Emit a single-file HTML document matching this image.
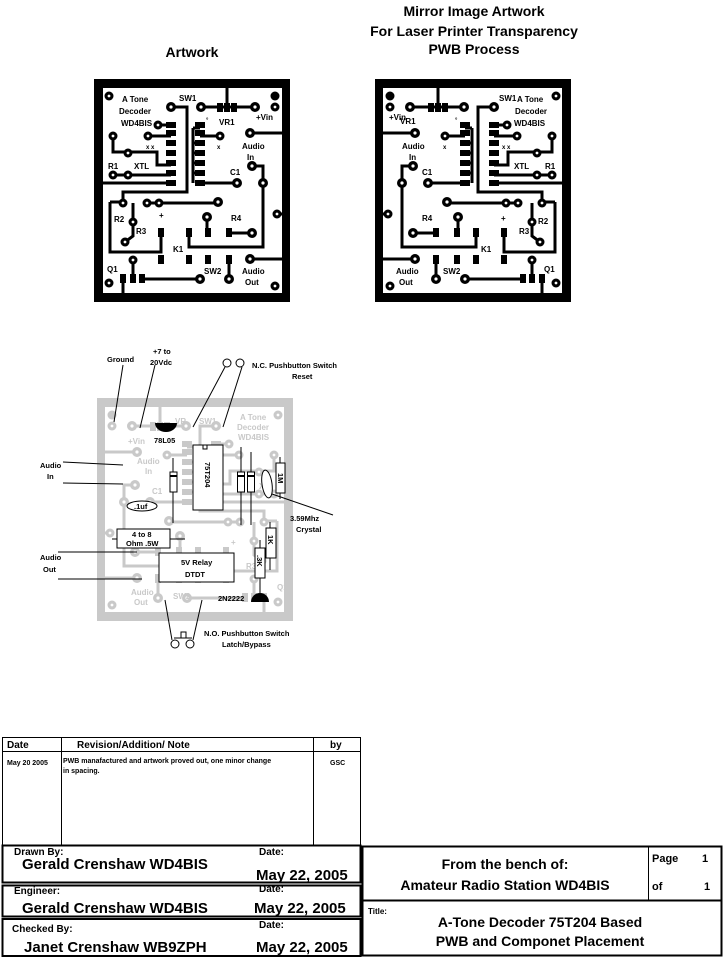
<!DOCTYPE html>
<html><head><meta charset="utf-8"><style>
html,body{margin:0;padding:0;background:#fff}
svg{display:block}
text{font-family:"Liberation Sans",sans-serif;font-weight:bold}
</style></head><body>
<svg width="723" height="958" viewBox="0 0 723 958" xmlns="http://www.w3.org/2000/svg">
<defs>
<g id="art">
  <path d="M94,79H290V302H94Z M103,88V293H282V88Z" fill="currentColor" fill-rule="evenodd"/>
  <g stroke="currentColor" stroke-width="3" fill="none">
    <path d="M227,80V107"/>
    <path d="M201,107H255"/>
    <path d="M247,133H282"/>
    <path d="M250,166H263V247H189V232"/>
    <path d="M277,214H282"/>
    <path d="M250,259H282"/>
    <path d="M171,107H187V192H123V203"/>
    <path d="M110,202H123 M110,202V252H161V233"/>
    <path d="M113,136V152H157V165H171"/>
    <path d="M113,175H171"/>
    <path d="M200,183H237"/>
    <path d="M148,136H171"/>
    <path d="M158,125H171"/>
    <path d="M200,136H220"/>
    <path d="M193,128V183"/>
    <path d="M200,128H193 M200,143H193 M200,153H193 M200,163H193 M200,173H193"/>
    <path d="M133,203V236L125,242"/>
    <path d="M147,203H218"/>
    <path d="M207,217V232"/>
    <path d="M229,233H252"/>
    <path d="M142,279H200"/>
    <path d="M229,260V279"/>
    <path d="M133,260V279"/>
    <path d="M123,279V293"/>
    <path d="M103,183H171"/>
  </g>
  <g fill="currentColor">
    <circle cx="109" cy="96" r="4.5"/><circle cx="275" cy="96" r="4.5"/><circle cx="275" cy="107" r="4.5"/>
    <circle cx="171" cy="107" r="5"/><circle cx="201" cy="107" r="5"/><circle cx="255" cy="107" r="5"/>
    <circle cx="250" cy="133" r="5"/><circle cx="113" cy="136" r="4.5"/>
    <circle cx="158" cy="125" r="4.5"/><circle cx="148" cy="136" r="4.5"/><circle cx="220" cy="136" r="4.5"/>
    <circle cx="113" cy="175" r="4.5"/><circle cx="128" cy="175" r="4.5"/><circle cx="128" cy="153" r="4.5"/>
    <circle cx="237" cy="183" r="5"/><circle cx="252" cy="166" r="5"/><circle cx="263" cy="183" r="5"/>
    <circle cx="277" cy="214" r="4.5"/>
    <circle cx="123" cy="203" r="4.5"/><circle cx="147" cy="203" r="4.5"/><circle cx="159" cy="203" r="4.5"/><circle cx="218" cy="202" r="5"/>
    <circle cx="207" cy="217" r="5"/><circle cx="133" cy="222" r="4.5"/><circle cx="125" cy="242" r="4.5"/>
    <circle cx="252" cy="233" r="5"/>
    <circle cx="133" cy="260" r="4.5"/><circle cx="200" cy="279" r="5"/><circle cx="229" cy="279" r="5"/>
    <circle cx="250" cy="259" r="5"/><circle cx="109" cy="283" r="4.5"/><circle cx="275" cy="286" r="4.5"/>
    <rect x="217" y="103" width="6" height="9"/><rect x="224" y="103" width="6" height="9"/><rect x="231" y="103" width="6" height="9"/>
    <rect x="166" y="122" width="10" height="6"/><rect x="166" y="130" width="10" height="6"/><rect x="166" y="140" width="10" height="6"/><rect x="166" y="150" width="10" height="6"/><rect x="166" y="160" width="10" height="6"/><rect x="166" y="170" width="10" height="6"/><rect x="166" y="180" width="10" height="6"/>
    <rect x="195" y="122" width="10" height="6"/><rect x="195" y="130" width="10" height="6"/><rect x="195" y="140" width="10" height="6"/><rect x="195" y="150" width="10" height="6"/><rect x="195" y="160" width="10" height="6"/><rect x="195" y="170" width="10" height="6"/><rect x="195" y="180" width="10" height="6"/>
    <rect x="158" y="228" width="6" height="9"/><rect x="186" y="228" width="6" height="9"/><rect x="205" y="228" width="6" height="9"/><rect x="226" y="228" width="6" height="9"/>
    <rect x="158" y="255" width="6" height="9"/><rect x="186" y="255" width="6" height="9"/><rect x="205" y="255" width="6" height="9"/><rect x="226" y="255" width="6" height="9"/>
    <rect x="120" y="274" width="6" height="9"/><rect x="130" y="274" width="6" height="9"/><rect x="139" y="274" width="6" height="9"/>
  </g>
  <g fill="#fff">
    <circle cx="109" cy="96" r="1.4"/><circle cx="275" cy="107" r="1.4"/>
    <circle cx="171" cy="107" r="1.6"/><circle cx="201" cy="107" r="1.6"/><circle cx="255" cy="107" r="1.6"/>
    <circle cx="250" cy="133" r="1.6"/><circle cx="113" cy="136" r="1.4"/>
    <circle cx="158" cy="125" r="1.4"/><circle cx="148" cy="136" r="1.4"/><circle cx="220" cy="136" r="1.4"/>
    <circle cx="113" cy="175" r="1.4"/><circle cx="128" cy="175" r="1.4"/><circle cx="128" cy="153" r="1.4"/>
    <circle cx="237" cy="183" r="1.6"/><circle cx="252" cy="166" r="1.6"/><circle cx="263" cy="183" r="1.6"/>
    <circle cx="277" cy="214" r="1.4"/>
    <circle cx="123" cy="203" r="1.4"/><circle cx="147" cy="203" r="1.4"/><circle cx="159" cy="203" r="1.4"/><circle cx="218" cy="202" r="1.6"/>
    <circle cx="207" cy="217" r="1.6"/><circle cx="133" cy="222" r="1.4"/><circle cx="125" cy="242" r="1.4"/>
    <circle cx="252" cy="233" r="1.6"/>
    <circle cx="133" cy="260" r="1.4"/><circle cx="200" cy="279" r="1.6"/><circle cx="229" cy="279" r="1.6"/>
    <circle cx="250" cy="259" r="1.6"/><circle cx="109" cy="283" r="1.4"/><circle cx="275" cy="286" r="1.4"/>
  </g>
</g>
</defs>

<g font-size="14" text-anchor="middle">
<text x="192" y="57">Artwork</text>
<text x="474" y="16">Mirror Image Artwork</text>
<text x="474" y="36">For Laser Printer Transparency</text>
<text x="474" y="54">PWB Process</text>
</g>

<use href="#art" color="#000"/>
<g font-size="8">
<text x="122" y="102">A Tone</text><text x="119" y="114">Decoder</text><text x="121" y="126">WD4BIS</text>
<text x="179" y="101">SW1</text><text x="219" y="125">VR1</text><text x="256" y="120">+Vin</text>
<text x="242" y="149">Audio</text><text x="247" y="160">In</text>
<text x="108" y="169">R1</text><text x="134" y="169">XTL</text><text x="230" y="175">C1</text>
<text x="114" y="222">R2</text><text x="136" y="234">R3</text><text x="159" y="218">+</text><text x="231" y="221">R4</text>
<text x="173" y="252">K1</text><text x="107" y="272">Q1</text><text x="204" y="274">SW2</text>
<text x="242" y="274">Audio</text><text x="245" y="285">Out</text>
<text x="146" y="149" font-size="6">x x</text><text x="217" y="149" font-size="6">x</text><text x="206" y="122" font-size="6">°</text>
</g>

<g transform="translate(665,0) scale(-1,1)"><use href="#art" color="#000"/></g>
<g font-size="8">
<text x="499" y="101">SW1</text><text x="517" y="102">A Tone</text><text x="515" y="114">Decoder</text><text x="514" y="126">WD4BIS</text>
<text x="389" y="120">+Vin</text><text x="400" y="124">VR1</text>
<text x="402" y="149">Audio</text><text x="409" y="160">In</text>
<text x="514" y="169">XTL</text><text x="545" y="169">R1</text><text x="422" y="175">C1</text>
<text x="422" y="221">R4</text><text x="501" y="221">+</text><text x="538" y="224">R2</text><text x="519" y="234">R3</text>
<text x="481" y="252">K1</text><text x="544" y="272">Q1</text><text x="443" y="274">SW2</text>
<text x="396" y="274">Audio</text><text x="399" y="285">Out</text>
<text x="502" y="149" font-size="6">x x</text><text x="443" y="149" font-size="6">x</text><text x="455" y="122" font-size="6">°</text>
</g>

<g transform="translate(387,319) scale(-1,1)"><use href="#art" color="#c9c9c9"/></g>
<g font-size="8" fill="#c9c9c9" font-weight="normal">
<text x="175" y="424">VR</text><text x="199" y="424">SW1</text>
<text x="240" y="420">A Tone</text><text x="237" y="430">Decoder</text><text x="238" y="440">WD4BIS</text>
<text x="128" y="444">+Vin</text><text x="137" y="464">Audio</text><text x="145" y="474">In</text>
<text x="152" y="494">C1</text><text x="259" y="489">XT</text><text x="231" y="545">+</text><text x="246" y="569">R3</text>
<text x="277" y="590">Q1</text><text x="131" y="595">Audio</text><text x="134" y="605">Out</text><text x="173" y="599">SW2</text>
</g>

<g stroke="#000" fill="none" stroke-width="1">
  <line x1="123" y1="365" x2="114" y2="422"/>
  <line x1="155" y1="365" x2="140" y2="428"/>
  <line x1="225" y1="367" x2="193" y2="427"/>
  <line x1="242" y1="367" x2="223" y2="427"/>
  <circle cx="227" cy="363" r="4" fill="#fff"/><circle cx="240" cy="363" r="4" fill="#fff"/>
  <line x1="63" y1="462" x2="123" y2="465"/>
  <line x1="63" y1="483" x2="123" y2="484"/>
  <line x1="58" y1="552" x2="137" y2="552"/>
  <line x1="58" y1="579" x2="142" y2="579"/>
  <line x1="165" y1="600" x2="172" y2="640"/>
  <line x1="202" y1="600" x2="193" y2="640"/>
  <circle cx="175" cy="644" r="4" fill="#fff"/><circle cx="190" cy="644" r="4" fill="#fff"/>
  <path d="M174,638H192 M181,638V632H186V638"/>
  <line x1="272" y1="494" x2="333" y2="515"/>
  <rect x="193" y="445" width="30" height="65" fill="#fff"/>
  <rect x="203" y="445" width="4" height="4" fill="#fff"/>
  <line x1="173" y1="458" x2="173" y2="523"/>
  <rect x="170" y="472" width="7" height="20" fill="#fff"/><line x1="170" y1="476" x2="177" y2="476" stroke-width="2"/>
  <line x1="241" y1="447" x2="241" y2="525"/><line x1="251" y1="452" x2="251" y2="525"/>
  <rect x="237.5" y="472" width="7" height="20" fill="#fff"/><line x1="237.5" y1="476" x2="244.5" y2="476" stroke-width="2"/>
  <rect x="247.5" y="472" width="7" height="20" fill="#fff"/><line x1="247.5" y1="476" x2="254.5" y2="476" stroke-width="2"/>
  <ellipse cx="267" cy="484" rx="5" ry="14" fill="#fff" transform="rotate(-8 267 484)"/>
  <line x1="280" y1="457" x2="280" y2="499"/>
  <rect x="276" y="463" width="9" height="30" fill="#fff"/>
  <ellipse cx="142" cy="506" rx="15" ry="5" fill="#fff"/>
  <line x1="112" y1="539" x2="185" y2="539"/>
  <rect x="117" y="529" width="53" height="19" fill="#fff"/>
  <rect x="159" y="553" width="75" height="29" fill="#fff"/>
  <line x1="270" y1="522" x2="270" y2="570"/>
  <rect x="266" y="528" width="10" height="30" fill="#fff"/>
  <line x1="260" y1="540" x2="260" y2="593"/>
  <rect x="255" y="548" width="10" height="30" fill="#fff"/>
</g>
<path d="M155,423H177A11,9 0 0 1 155,423Z" fill="#000"/>
<path d="M251,602A9,9 0 0 1 269,602Z" fill="#000"/>
<g font-size="7.5">
<text x="107" y="362">Ground</text>
<text x="153" y="354">+7 to</text><text x="150" y="365">20Vdc</text>
<text x="252" y="368">N.C. Pushbutton Switch</text><text x="292" y="379">Reset</text>
<text x="154" y="443">78L05</text>
<text x="40" y="468">Audio</text><text x="47" y="479">In</text>
<text x="40" y="560">Audio</text><text x="43" y="572">Out</text>
<text x="134" y="509">.1uf</text>
<text x="132" y="537">4 to 8</text><text x="126" y="546">Ohm .5W</text>
<text x="181" y="565">5V Relay</text><text x="185" y="577">DTDT</text>
<text x="218" y="601">2N2222</text>
<text x="290" y="521">3.59Mhz</text><text x="296" y="532">Crystal</text>
<text x="204" y="636">N.O. Pushbutton Switch</text><text x="222" y="647">Latch/Bypass</text>
<text transform="translate(205,462) rotate(90)">75T204</text>
<text transform="translate(278,473) rotate(90)">1M</text>
<text transform="translate(268,535) rotate(90)">1K</text>
<text transform="translate(257,555) rotate(90)">.3K</text>
</g>

<g fill="none" stroke="#000">
  <rect x="2.5" y="737.5" width="358" height="108" stroke-width="1"/>
  <line x1="2" y1="751.5" x2="361" y2="751.5"/>
  <line x1="61.5" y1="738" x2="61.5" y2="845"/>
  <line x1="313.5" y1="738" x2="313.5" y2="845"/>
  <rect x="2.5" y="845.5" width="358" height="37" stroke-width="2"/>
  <rect x="2.5" y="885.5" width="358" height="31" stroke-width="2"/>
  <rect x="2.5" y="919" width="358" height="37" stroke-width="2"/>
  <rect x="362.5" y="846.5" width="359" height="109" stroke-width="2"/>
  <line x1="362" y1="900.5" x2="722" y2="900.5" stroke-width="2"/>
  <line x1="648.5" y1="846" x2="648.5" y2="900"/>
</g>
<g>
<text x="7" y="748" font-size="10">Date</text>
<text x="77" y="748" font-size="10">Revision/Addition/ Note</text>
<text x="330" y="748" font-size="10">by</text>
<text x="7" y="765" font-size="7">May 20 2005</text>
<text x="63" y="763" font-size="7">PWB manafactured and artwork proved out, one minor change</text>
<text x="63" y="773" font-size="7">in spacing.</text>
<text x="330" y="765" font-size="7">GSC</text>
<text x="14" y="855" font-size="10" font-weight="normal">Drawn By:</text>
<text x="22" y="869" font-size="15">Gerald Crenshaw WD4BIS</text>
<text x="259" y="855" font-size="10">Date:</text>
<text x="256" y="880" font-size="15">May 22, 2005</text>
<text x="14" y="894" font-size="10" font-weight="normal">Engineer:</text>
<text x="22" y="913" font-size="15">Gerald Crenshaw WD4BIS</text>
<text x="259" y="892" font-size="10" font-weight="normal">Date:</text>
<text x="254" y="913" font-size="15">May 22, 2005</text>
<text x="12" y="932" font-size="10" font-weight="normal">Checked By:</text>
<text x="24" y="952" font-size="15">Janet Crenshaw WB9ZPH</text>
<text x="259" y="928" font-size="10" font-weight="normal">Date:</text>
<text x="256" y="952" font-size="15">May 22, 2005</text>
<text x="505" y="869" font-size="14" text-anchor="middle">From the bench of:</text>
<text x="505" y="890" font-size="14" text-anchor="middle">Amateur Radio Station WD4BIS</text>
<text x="652" y="862" font-size="11">Page</text><text x="702" y="862" font-size="11">1</text>
<text x="652" y="890" font-size="11">of</text><text x="704" y="890" font-size="11">1</text>
<text x="368" y="914" font-size="8">Title:</text>
<text x="540" y="927" font-size="14" text-anchor="middle">A-Tone Decoder 75T204 Based</text>
<text x="540" y="946" font-size="14" text-anchor="middle">PWB and Componet Placement</text>
</g>
</svg>
</body></html>
